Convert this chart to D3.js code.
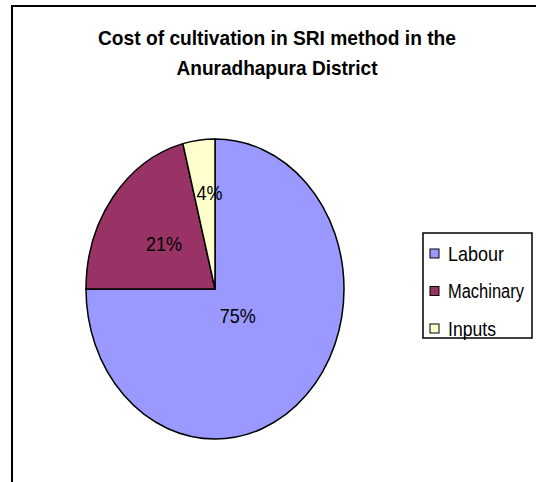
<!DOCTYPE html>
<meta charset="utf-8">
<style>
body { margin: 0; background: #fff; }
svg { display: block; font-family: "Liberation Sans", Arial, sans-serif; }
</style>
<svg width="536" height="482" id="chart"></svg>
<script src="https://cdn.jsdelivr.net/npm/d3@7"></script>
<script>
// data
var categories = ["Labour", "Machinary", "Inputs"];
var shares = [75, 21, 4];
var colours = ["#9999FF", "#993366", "#FFFFCC"];
var titleLines = ["Cost of cultivation in SRI method in the", "Anuradhapura District"];

// where each % label sits along its slice's mid-angle (fraction of radius)
var labelRadius = [0.25, 0.5, 0.65];

var svg = d3.select("svg#chart");

// outer chart frame (right/bottom edges fall outside the picture)
svg.append("rect")
    .attr("x", 12).attr("y", 6)
    .attr("width", 700).attr("height", 700)
    .attr("fill", "none")
    .attr("stroke", "#000")
    .attr("stroke-width", 2);

// title
var titleWidths = [358, 201];
svg.append("g").selectAll("text")
    .data(titleLines)
    .enter().append("text")
      .attr("x", 277)
      .attr("y", function(d, i) { return 45 + i * 30; })
      .attr("text-anchor", "middle")
      .attr("font-size", "20.5px")
      .attr("font-weight", "bold")
      .attr("textLength", function(d, i) { return titleWidths[i]; })
      .attr("lengthAdjust", "spacingAndGlyphs")
      .text(function(d) { return d; });

// pie is drawn on a unit circle and stretched into an ellipse
var cx = 215, cy = 289, rx = 129, ry = 150;

var pie = d3.pie().sort(null).value(function(d) { return d; });
var arcs = pie(shares);
var arc = d3.arc().innerRadius(0).outerRadius(1);

var pieG = svg.append("g")
    .attr("transform", "translate(" + cx + "," + cy + ") scale(" + rx + "," + ry + ")");

pieG.selectAll("path")
    .data(arcs)
    .enter().append("path")
      .attr("d", arc)
      .attr("fill", function(d, i) { return colours[i]; })
      .attr("stroke", "#000")
      .attr("stroke-width", 1.5)
      .attr("vector-effect", "non-scaling-stroke");

var labelWidths = [36, 36, 26];
var labelNudge = [0, 0, 5];
svg.append("g").selectAll("text")
    .data(arcs)
    .enter().append("text")
      .attr("x", function(d, i) {
        var a = (d.startAngle + d.endAngle) / 2;
        return cx + Math.sin(a) * rx * labelRadius[i] + labelNudge[i];
      })
      .attr("y", function(d, i) {
        var a = (d.startAngle + d.endAngle) / 2;
        return cy - Math.cos(a) * ry * labelRadius[i];
      })
      .attr("dy", "0.36em")
      .attr("text-anchor", "middle")
      .attr("font-size", "21px")
      .attr("textLength", function(d, i) { return labelWidths[i]; })
      .attr("lengthAdjust", "spacingAndGlyphs")
      .attr("fill", "#000")
      .text(function(d) { return d.data + "%"; });

// legend
var legend = svg.append("g").attr("transform", "translate(423,233)");
legend.append("rect")
    .attr("width", 109).attr("height", 105)
    .attr("fill", "#fff")
    .attr("stroke", "#000")
    .attr("stroke-width", 1.5);

var legendWidths = [56, 76, 48];
var item = legend.selectAll("g.item")
    .data(categories)
    .enter().append("g")
      .attr("class", "item")
      .attr("transform", function(d, i) { return "translate(7," + (16 + i * 37.5) + ")"; });

item.append("rect")
    .attr("width", 9).attr("height", 9)
    .attr("fill", function(d, i) { return colours[i]; })
    .attr("stroke", "#000")
    .attr("stroke-width", 1);

// squeeze the legend text horizontally so it is narrow like the original
item.append("text")
    .attr("y", 4.5)
    .attr("dy", "0.36em")
    .attr("font-size", "20px")
    .text(function(d) { return d; })
    .attr("transform", function(d, i) {
      var w = this.getComputedTextLength();
      return "translate(18,0) scale(" + (legendWidths[i] / w) + ",1)";
    });
</script>
